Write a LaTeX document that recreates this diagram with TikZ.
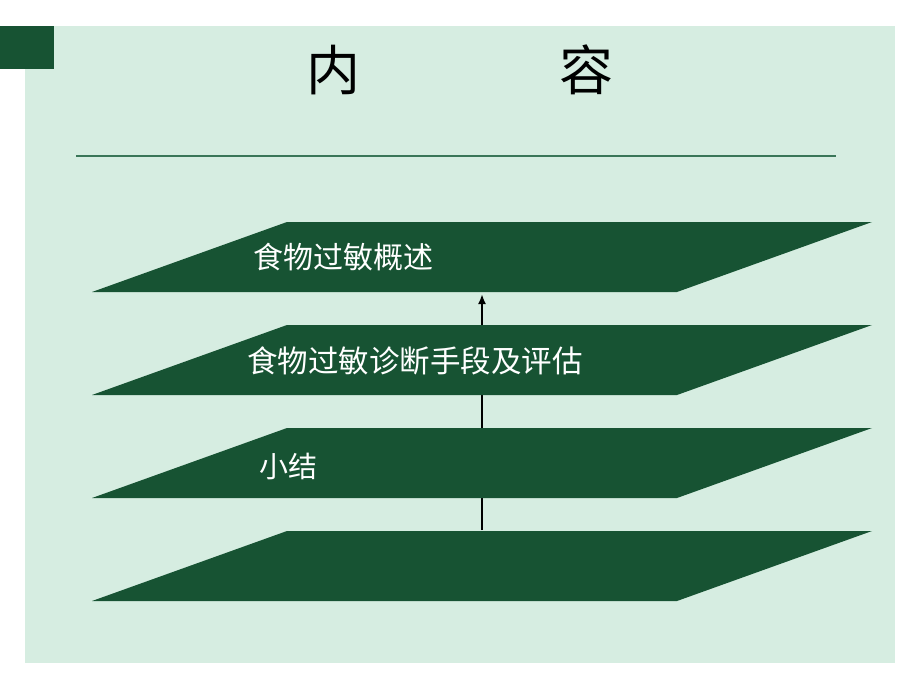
\documentclass[tikz,border=0pt]{standalone}
\usepackage{fontspec}
\setmainfont{Noto Sans CJK SC}
\usetikzlibrary{arrows.meta,calc}

\definecolor{panelgreen}{RGB}{214,237,225}
\definecolor{layergreen}{RGB}{23,83,51}
\definecolor{rulegreen}{RGB}{58,118,88}

\begin{document}
\begin{tikzpicture}[x=1pt,y=-1pt,
    layertext/.style={anchor=west, inner sep=0pt, text=white},
    titletext/.style={inner sep=0pt, font=\fontsize{54}{54}\selectfont}]
    \useasboundingbox (0,0) rectangle (920,690);
    \fill[panelgreen] (25,26) rectangle (895,663);
    \fill[layergreen] (0,26) rectangle (54,69);

    \node[titletext] (T1) at (333,70) {内};
    \node[titletext] (T2) at (586,70) {容};
    \draw[rulegreen, line width=1.2pt] (76,156) -- (836,156);

    \coordinate (A0) at (482,530);
    \coordinate (A1) at (482,294);
    \draw[line width=2pt, -{Latex[length=10pt,width=8pt]}] (A0) -- (A1);

    \foreach \k [evaluate=\k as \t using {292+103*\k}] in {0, ..., 3} {
      \coordinate (P\k) at (92,\t);
      \fill[layergreen] (P\k) -- ++(585,0) -- ++(195,-70) -- ++(-585,0) -- cycle;
    }

    \node[layertext, font=\fontsize{30}{36}\selectfont] (L0) at (253,257) {食物过敏概述};
    \node[layertext, font=\fontsize{30.5}{36}\selectfont] (L1) at (247,361) {食物过敏诊断手段及评估};
    \node[layertext, font=\fontsize{29}{35}\selectfont] (L2) at (259,466) {小结};

  \end{tikzpicture}
\end{document}
